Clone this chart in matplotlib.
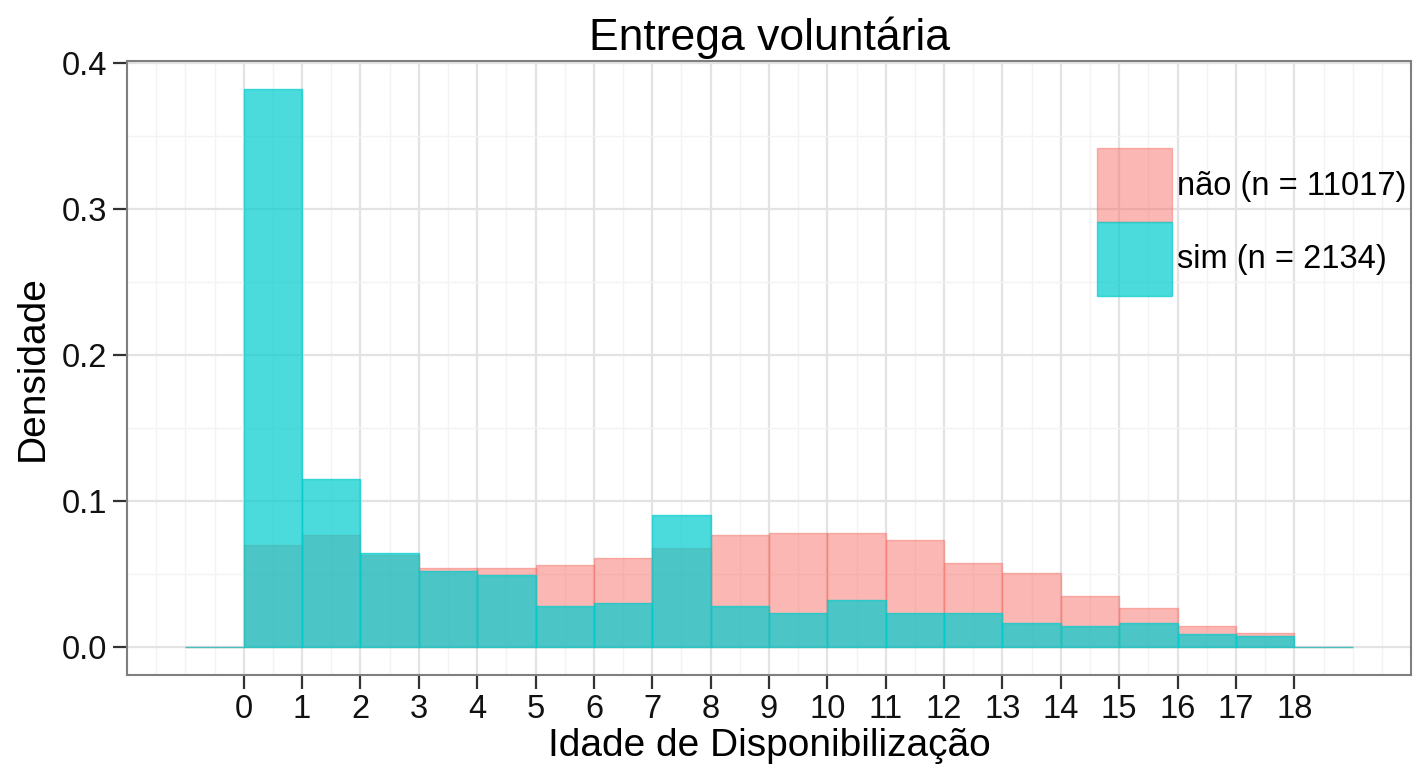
import matplotlib.pyplot as plt
import numpy as np
from matplotlib.ticker import MultipleLocator

plt.rcParams['font.family'] = ['Liberation Sans', 'DejaVu Sans']

# histogram bins (width 1) and densities
bin_left = np.arange(-1, 19)
nao = [0, 0.0696, 0.0764, 0.0633, 0.0541, 0.0541, 0.0560, 0.0610, 0.0678, 0.0764,
       0.0783, 0.0783, 0.0733, 0.0578, 0.0505, 0.0350, 0.0269, 0.0146, 0.0095, 0]
sim = [0, 0.382, 0.115, 0.0646, 0.0523, 0.0491, 0.0282, 0.0300, 0.0906, 0.0282,
       0.0232, 0.0319, 0.0232, 0.0232, 0.0164, 0.0146, 0.0164, 0.0091, 0.0078, 0]
labels = ["não (n = 11017)", "sim (n = 2134)"]
x_ticks = list(range(0, 19))

pink = "#F8766D"
cyan = "#00CCCE"

fig = plt.figure(figsize=(14.22, 7.74), dpi=100)
ax = fig.add_axes([0.0893, 0.1279, 0.9030, 0.7933])

b1 = ax.bar(bin_left, nao, width=1, align="edge", color=pink, alpha=0.52,
            edgecolor=pink, linewidth=1.0, label=labels[0], zorder=2)
b2 = ax.bar(bin_left, sim, width=1, align="edge", color=cyan, alpha=0.7,
            edgecolor=cyan, linewidth=1.0, label=labels[1], zorder=3)

ymax = max(max(nao), max(sim))
ax.set_xlim(-2, 20)
ax.set_ylim(-0.05 * ymax, ymax * 1.05)

ax.set_xticks(x_ticks)
ax.xaxis.set_minor_locator(MultipleLocator(0.5))
ax.set_yticks([0, 0.1, 0.2, 0.3, 0.4])
ax.set_yticklabels(["0.0", "0.1", "0.2", "0.3", "0.4"])
ax.yaxis.set_minor_locator(MultipleLocator(0.05))

ax.grid(True, which="major", color="#E3E3E3", linewidth=1.6, zorder=0)
ax.grid(True, which="minor", color="#F3F3F3", linewidth=1.0, zorder=0)
ax.set_axisbelow(True)

ax.tick_params(which="major", length=10, width=1.6, color="#333333",
               labelsize=23.5, pad=4, labelcolor="#111111")
ax.tick_params(which="minor", length=0)
for s in ax.spines.values():
    s.set_color("#7F7F7F")
    s.set_linewidth(1.5)

ax.set_title("Entrega voluntária", fontsize=32, pad=8)
ax.set_xlabel("Idade de Disponibilização", fontsize=28, labelpad=2)
ax.set_ylabel("Densidade", fontsize=28, labelpad=8)

ax.legend(handles=[b1, b2], loc="upper left", bbox_to_anchor=(0.7555, 0.858),
          frameon=False, fontsize=23.5, handlelength=2.3, handleheight=3.1,
          labelspacing=0, handletextpad=0.15, borderpad=0, borderaxespad=0)

fig.savefig("out.png", dpi=100)
